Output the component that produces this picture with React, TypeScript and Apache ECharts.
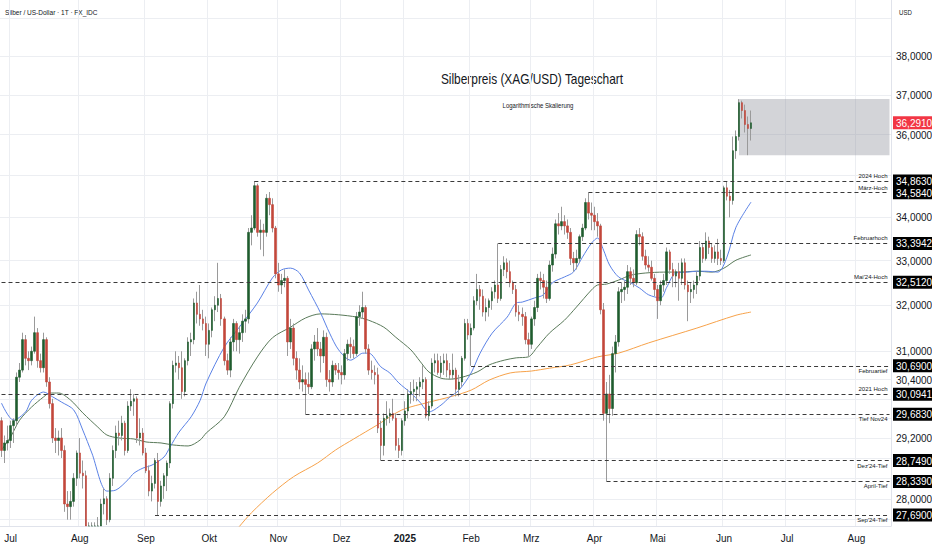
import React, { useEffect, useRef } from "react";
import * as echarts from "echarts";

const FONT = "'Liberation Sans Narrow', 'Liberation Sans', Arial, sans-serif";
const UP = "#1f5c2e";
const DOWN = "#c2473b";
const WICK = "#9a9a9a";
const TEXT = "#131722";

// Daily candles [open, high, low, close]
const jun24 = [
  [29.55, 29.62, 28.82, 28.95], [28.95, 29.25, 28.7, 29.1], [29.1, 29.45, 28.95, 29.15],
];
const jul24 = [
  [29.15, 29.55, 29.0, 29.45], [29.45, 29.6, 29.1, 29.55], [29.55, 30.55, 29.45, 30.45], [30.45, 30.75, 30.35, 30.6],
  [30.6, 31.4, 30.55, 31.25], [31.25, 31.35, 30.7, 30.85], [30.85, 31.0, 30.6, 30.8], [30.8, 31.1, 30.7, 31.0],
  [31.0, 31.75, 30.95, 31.4], [31.4, 31.5, 30.65, 30.8], [30.8, 30.95, 30.55, 30.65], [30.65, 31.4, 30.55, 31.25],
  [31.25, 31.3, 30.25, 30.35], [30.35, 30.45, 29.8, 29.9], [29.9, 30.0, 29.1, 29.2], [29.2, 29.4, 28.9, 29.15],
  [29.15, 29.35, 28.85, 29.2], [29.2, 29.4, 28.8, 28.95], [28.95, 29.05, 27.75, 27.9], [27.9, 28.15, 27.6, 27.85],
  [27.85, 28.15, 27.6, 27.95], [27.95, 28.5, 27.85, 28.4], [28.4, 28.95, 28.25, 28.9],
];
const aug24 = [
  [28.9, 29.2, 28.4, 28.5], [28.5, 28.75, 28.2, 28.45], [28.45, 28.55, 26.55, 27.15], [27.15, 27.55, 26.85, 27.25],
  [27.25, 27.55, 26.6, 26.75], [26.75, 27.55, 26.45, 27.4], [27.4, 27.65, 27.1, 27.45], [27.45, 28.0, 27.3, 27.9],
  [27.9, 28.2, 27.7, 28.0], [28.0, 28.05, 27.5, 27.6], [27.6, 28.5, 27.55, 28.4], [28.4, 29.05, 28.25, 28.95],
  [28.95, 29.45, 28.8, 29.3], [29.3, 29.55, 29.05, 29.25], [29.25, 29.65, 29.15, 29.5], [29.5, 29.55, 28.85, 28.95],
  [28.95, 29.95, 28.9, 29.85], [29.85, 30.2, 29.75, 29.95], [29.95, 30.1, 29.65, 30.0], [30.0, 30.05, 29.1, 29.2],
  [29.2, 29.6, 29.05, 29.3], [29.3, 29.4, 28.85, 28.9],
];
const sep24 = [
  [28.9, 29.0, 28.5, 28.55], [28.55, 28.65, 28.05, 28.15], [28.15, 28.45, 27.95, 28.3], [28.3, 28.8, 28.2, 28.75],
  [28.75, 28.9, 27.69, 27.95], [27.95, 28.35, 27.85, 28.25], [28.25, 28.5, 28.0, 28.45], [28.45, 28.75, 28.15, 28.7],
  [28.7, 29.95, 28.6, 29.9], [29.9, 30.8, 29.8, 30.7], [30.7, 31.0, 30.55, 30.75], [30.75, 30.9, 30.4, 30.65],
  [30.65, 31.0, 30.0, 30.15], [30.15, 30.85, 30.05, 30.8], [30.8, 31.3, 30.7, 31.2], [31.2, 31.4, 30.9, 31.25],
  [31.25, 32.15, 31.15, 32.05], [32.05, 32.3, 31.6, 31.8], [31.8, 32.45, 31.55, 31.7], [31.7, 31.9, 31.45, 31.6],
  [31.6, 31.75, 30.9, 31.15],
];
const oct24 = [
  [31.15, 31.6, 30.85, 31.45], [31.45, 31.95, 31.3, 31.9], [31.9, 32.2, 31.65, 32.0], [32.0, 32.95, 31.85, 32.15],
  [32.15, 32.25, 31.55, 31.7], [31.7, 31.75, 30.7, 30.8], [30.8, 30.95, 30.5, 30.6], [30.6, 31.3, 30.45, 31.2],
  [31.2, 31.7, 31.0, 31.6], [31.6, 31.65, 31.0, 31.25], [31.25, 31.55, 30.95, 31.4], [31.4, 31.8, 31.2, 31.65],
  [31.65, 31.9, 31.4, 31.7], [31.7, 33.75, 31.6, 33.65], [33.65, 34.05, 33.35, 33.75], [33.75, 34.863, 33.7, 34.75],
  [34.75, 34.8, 33.55, 33.65], [33.65, 33.95, 33.25, 33.7], [33.7, 33.85, 33.1, 33.65], [33.65, 34.55, 33.55, 34.45],
  [34.45, 34.6, 34.05, 34.3], [34.3, 34.45, 33.65, 33.75], [33.75, 33.8, 32.6, 32.7],
];
const nov24 = [
  [32.7, 32.95, 32.3, 32.45], [32.45, 32.7, 32.25, 32.55], [32.55, 32.8, 32.4, 32.6], [32.6, 32.65, 30.9, 31.2],
  [31.2, 31.7, 31.05, 31.5], [31.5, 31.6, 30.7, 30.85], [30.85, 31.0, 30.4, 30.6], [30.6, 30.85, 30.2, 30.35],
  [30.35, 30.7, 30.15, 30.4], [30.4, 30.55, 29.683, 30.3], [30.3, 30.55, 30.1, 30.25], [30.25, 31.15, 30.2, 31.05],
  [31.05, 31.35, 30.8, 31.2], [31.2, 31.5, 30.9, 31.05], [31.05, 31.2, 30.55, 30.9], [30.9, 31.45, 30.75, 31.3],
  [31.3, 31.4, 30.25, 30.4], [30.4, 30.6, 30.15, 30.35], [30.35, 30.8, 30.25, 30.7], [30.7, 30.75, 30.5, 30.6],
  [30.6, 30.75, 30.4, 30.55],
];
const dec24 = [
  [30.55, 30.7, 30.3, 30.5], [30.5, 31.05, 30.4, 30.95], [30.95, 31.25, 30.8, 31.15], [31.15, 31.3, 30.85, 31.1],
  [31.1, 31.25, 30.85, 30.95], [30.95, 31.85, 30.9, 31.75], [31.75, 32.0, 31.55, 31.85], [31.85, 32.3, 31.7, 31.95],
  [31.95, 32.0, 30.95, 31.05], [31.05, 31.15, 30.5, 30.6], [30.6, 30.8, 30.4, 30.55], [30.55, 30.7, 30.3, 30.5],
  [30.5, 30.65, 29.3, 29.4], [29.4, 29.55, 28.749, 29.05], [29.05, 29.7, 28.85, 29.6], [29.6, 29.95, 29.45, 29.65],
  [29.65, 29.8, 29.5, 29.7], [29.7, 30.0, 29.55, 29.6], [29.6, 29.7, 28.95, 29.05], [29.05, 29.2, 28.8, 28.95],
  [28.95, 29.6, 28.85, 29.55],
];
const jan25 = [
  [29.55, 29.95, 29.45, 29.75], [29.75, 30.2, 29.6, 30.1], [30.1, 30.35, 29.9, 30.15], [30.15, 30.4, 29.95, 30.2],
  [30.2, 30.35, 29.95, 30.25], [30.25, 30.45, 30.05, 30.35], [30.35, 30.7, 30.2, 30.4], [30.4, 30.45, 29.6, 29.65],
  [29.65, 29.95, 29.55, 29.85], [29.85, 30.85, 29.8, 30.75], [30.75, 30.95, 30.55, 30.8], [30.8, 30.95, 30.5, 30.55],
  [30.55, 30.9, 30.45, 30.75], [30.75, 30.95, 30.5, 30.8], [30.8, 30.95, 30.45, 30.6], [30.6, 30.75, 30.4, 30.5],
  [30.5, 30.95, 30.4, 30.6], [30.6, 30.65, 30.05, 30.2], [30.2, 30.5, 30.05, 30.35], [30.35, 30.9, 30.25, 30.85],
  [30.85, 31.7, 30.8, 31.6], [31.6, 31.7, 31.25, 31.35],
];
const feb25 = [
  [31.35, 31.6, 30.69, 31.5], [31.5, 32.2, 31.45, 32.1], [32.1, 32.7, 32.0, 32.35], [32.35, 32.45, 31.9, 32.2],
  [32.2, 32.35, 31.75, 31.85], [31.85, 32.15, 31.65, 31.95], [31.95, 32.15, 31.75, 32.1], [32.1, 32.4, 31.9, 32.3],
  [32.3, 32.55, 32.15, 32.45], [32.45, 33.3942, 32.05, 32.15], [32.15, 32.9, 32.1, 32.8], [32.8, 33.1, 32.65, 32.95],
  [32.95, 33.05, 32.6, 32.75], [32.75, 33.0, 32.4, 32.5], [32.5, 32.55, 32.25, 32.35], [32.35, 32.45, 31.75, 31.85],
  [31.85, 32.0, 31.65, 31.8], [31.8, 31.95, 31.55, 31.75], [31.75, 31.85, 31.15, 31.25], [31.25, 31.4, 30.9, 31.15],
];
const mar25 = [
  [31.15, 31.75, 31.05, 31.7], [31.7, 32.1, 31.55, 31.95], [31.95, 32.7, 31.85, 32.6], [32.6, 32.75, 32.35, 32.55],
  [32.55, 32.7, 32.15, 32.4], [32.4, 32.55, 32.05, 32.15], [32.15, 33.0, 32.1, 32.9], [32.9, 33.3, 32.75, 33.15],
  [33.15, 33.95, 33.05, 33.85], [33.85, 34.1, 33.6, 33.8], [33.8, 34.25, 33.7, 33.9], [33.9, 34.05, 33.6, 33.8],
  [33.8, 33.95, 33.5, 33.65], [33.65, 33.75, 32.9, 33.05], [33.05, 33.2, 32.75, 32.95], [32.95, 33.25, 32.8, 33.05],
  [33.05, 33.6, 32.95, 33.55], [33.55, 33.85, 33.45, 33.75], [33.75, 34.45, 33.7, 34.35], [34.35, 34.584, 33.95, 34.1],
  [34.1, 34.35, 33.7, 34.05],
];
const apr25 = [
  [34.05, 34.25, 33.7, 33.9], [33.9, 34.1, 33.55, 33.8], [33.8, 33.85, 31.8, 31.9], [31.9, 32.05, 29.55, 29.7],
  [29.7, 30.35, 28.339, 30.1], [30.1, 30.5, 29.5, 29.8], [29.8, 31.1, 29.65, 30.95], [30.95, 31.35, 30.55, 31.2],
  [31.2, 32.4, 31.1, 32.3], [32.3, 32.5, 32.05, 32.35], [32.35, 32.55, 32.1, 32.4], [32.4, 32.9, 32.25, 32.75],
  [32.75, 32.85, 32.45, 32.6], [32.6, 32.8, 32.4, 32.5], [32.5, 33.7, 32.45, 33.6], [33.6, 33.75, 33.35, 33.55],
  [33.55, 33.65, 33.0, 33.1], [33.1, 33.25, 32.8, 32.9], [32.9, 33.1, 32.75, 32.85], [32.85, 33.0, 32.55, 32.6],
  [32.6, 32.7, 32.2, 32.35],
];
const may25 = [
  [32.35, 32.45, 31.7, 32.1], [32.1, 32.55, 32.0, 32.45], [32.45, 32.7, 32.3, 32.55], [32.55, 33.3, 32.45, 33.2],
  [33.2, 33.25, 32.7, 32.8], [32.8, 32.95, 32.4, 32.65], [32.65, 32.8, 32.4, 32.75], [32.75, 32.95, 32.1, 32.6],
  [32.6, 33.05, 32.45, 32.95], [32.95, 33.05, 32.35, 32.45], [32.45, 32.55, 31.65, 32.3], [32.3, 32.5, 32.05, 32.35],
  [32.35, 32.55, 32.15, 32.45], [32.45, 32.75, 32.25, 32.65], [32.65, 33.45, 32.55, 33.3], [33.3, 33.4, 32.95, 33.05],
  [33.05, 33.65, 33.0, 33.45], [33.45, 33.55, 33.15, 33.3], [33.3, 33.4, 32.95, 33.05], [33.05, 33.35, 32.95, 33.2],
  [33.2, 33.5, 32.9, 33.05], [33.05, 33.25, 32.9, 33.0],
];
const jun25 = [
  [33.0, 34.75, 32.95, 34.7], [34.7, 34.85, 34.4, 34.5], [34.5, 34.65, 34.0, 34.4], [34.4, 35.95, 34.3, 35.6],
  [35.6, 36.1, 35.4, 35.95], [35.95, 36.89, 35.85, 36.8], [36.8, 36.85, 36.4, 36.6], [36.6, 36.75, 36.05, 36.25],
  [36.25, 36.45, 35.49, 36.15], [36.15, 36.6, 35.85, 36.291],
];

// Moving averages: [date, value]
const ma20Points = [
  ["2024-06-26", 29.91], ["2024-07-02", 29.56], ["2024-07-08", 29.73], ["2024-07-10", 29.97], ["2024-07-16", 30.14],
  ["2024-07-19", 30.04], ["2024-07-24", 29.93], ["2024-07-30", 29.77], ["2024-08-02", 29.36], ["2024-08-07", 28.9],
  ["2024-08-14", 28.15], ["2024-08-19", 28.17], ["2024-08-23", 28.37], ["2024-08-27", 28.5], ["2024-08-30", 28.6],
  ["2024-09-04", 28.66], ["2024-09-10", 28.82], ["2024-09-12", 29.02], ["2024-09-17", 29.32], ["2024-09-23", 29.63],
  ["2024-09-26", 29.97], ["2024-09-30", 30.33], ["2024-10-08", 31.09], ["2024-10-15", 31.52], ["2024-10-23", 32.05],
  ["2024-10-30", 32.61], ["2024-11-04", 32.79], ["2024-11-07", 32.83], ["2024-11-12", 32.72], ["2024-11-15", 32.34],
  ["2024-11-21", 31.83], ["2024-11-26", 31.39], ["2024-11-29", 31.03], ["2024-12-05", 30.81], ["2024-12-09", 30.88],
  ["2024-12-11", 30.96], ["2024-12-13", 30.96], ["2024-12-19", 30.67], ["2024-12-24", 30.54], ["2024-12-30", 30.33],
  ["2025-01-06", 30.12], ["2025-01-09", 29.93], ["2025-01-14", 29.73], ["2025-01-20", 29.87], ["2025-01-23", 30.04],
  ["2025-01-28", 30.18], ["2025-02-03", 30.54], ["2025-02-06", 30.96], ["2025-02-12", 31.39], ["2025-02-19", 31.74],
  ["2025-02-24", 32.05], ["2025-02-26", 32.07], ["2025-03-04", 32.16], ["2025-03-07", 32.23], ["2025-03-12", 32.5],
  ["2025-03-18", 32.63], ["2025-03-21", 32.74], ["2025-03-26", 33.08], ["2025-03-31", 33.4], ["2025-04-02", 33.52],
  ["2025-04-04", 33.24], ["2025-04-08", 32.9], ["2025-04-11", 32.63], ["2025-04-17", 32.5], ["2025-04-23", 32.38],
  ["2025-04-28", 32.23], ["2025-05-02", 32.16], ["2025-05-06", 32.4], ["2025-05-09", 32.72], ["2025-05-15", 32.74],
  ["2025-05-20", 32.76], ["2025-05-23", 32.76], ["2025-05-29", 32.74], ["2025-06-03", 33.08], ["2025-06-06", 33.77],
  ["2025-06-13", 34.36],
];
const ma50Points = [
  ["2024-06-26", 28.96], ["2024-07-01", 29.22], ["2024-07-04", 29.56], ["2024-07-10", 29.83], ["2024-07-16", 30.04],
  ["2024-07-18", 30.12], ["2024-07-23", 30.12], ["2024-07-29", 29.97], ["2024-08-02", 29.71], ["2024-08-09", 29.42],
  ["2024-08-14", 29.26], ["2024-08-20", 29.2], ["2024-08-27", 29.18], ["2024-09-02", 29.12], ["2024-09-09", 29.1],
  ["2024-09-13", 29.06], ["2024-09-20", 29.04], ["2024-09-26", 29.16], ["2024-09-30", 29.3], ["2024-10-08", 29.63],
  ["2024-10-15", 30.24], ["2024-10-23", 30.88], ["2024-10-30", 31.29], ["2024-11-07", 31.52], ["2024-11-14", 31.72],
  ["2024-11-21", 31.81], ["2024-11-29", 31.79], ["2024-12-09", 31.74], ["2024-12-13", 31.67], ["2024-12-20", 31.52],
  ["2024-12-27", 31.3], ["2025-01-06", 31.03], ["2025-01-09", 30.79], ["2025-01-14", 30.56], ["2025-01-20", 30.43],
  ["2025-01-23", 30.41], ["2025-01-29", 30.45], ["2025-02-05", 30.56], ["2025-02-11", 30.71], ["2025-02-18", 30.81],
  ["2025-02-24", 30.86], ["2025-02-28", 30.88], ["2025-03-05", 31.09], ["2025-03-11", 31.39], ["2025-03-18", 31.67],
  ["2025-03-24", 31.96], ["2025-03-31", 32.34], ["2025-04-02", 32.45], ["2025-04-07", 32.47], ["2025-04-11", 32.56],
  ["2025-04-17", 32.67], ["2025-04-25", 32.72], ["2025-05-05", 32.74], ["2025-05-12", 32.74], ["2025-05-20", 32.76],
  ["2025-05-27", 32.74], ["2025-06-02", 32.83], ["2025-06-06", 33.01], ["2025-06-13", 33.13],
];
const ma200Points = [
  ["2024-10-04", 27.0], ["2024-10-15", 27.47], ["2024-10-21", 27.73], ["2024-10-30", 28.11], ["2024-11-08", 28.43],
  ["2024-11-20", 28.7], ["2024-11-28", 28.96], ["2024-12-06", 29.18], ["2024-12-18", 29.47], ["2024-12-31", 29.77],
  ["2025-01-14", 29.93], ["2025-01-23", 30.04], ["2025-02-03", 30.18], ["2025-02-11", 30.39], ["2025-02-20", 30.54],
  ["2025-03-03", 30.58], ["2025-03-11", 30.64], ["2025-03-20", 30.71], ["2025-04-02", 30.88], ["2025-04-11", 30.96],
  ["2025-04-28", 31.18], ["2025-05-20", 31.5], ["2025-06-06", 31.78], ["2025-06-13", 31.85],
];

// Horizontal levels
const levelNames = ["2024 Hoch", "März-Hoch", "Februarhoch", "Mai'24-Hoch", "Februartief", "2021 Hoch", "Tief Nov24", "Dez'24-Tief", "April-Tief", "Sep'24-Tief"];
const levelValues = [34.863, 34.584, 33.3942, 32.512, 30.69, 30.0941, 29.683, 28.749, 28.339, 27.69];
const levelStarts = ["2024-10-22", "2025-03-28", "2025-02-14", "2024-06-26", "2025-02-03", "2024-06-26", "2024-11-14", "2024-12-19", "2025-04-07", "2024-09-05"];
const levelLabelAbove = [true, true, true, true, false, true, false, false, false, false];

const priceTicks = [38, 37, 36, 34, 33, 32, 31, 30.4, 29.2, 28];
const gridTicks = [39, 38, 37, 36, 35, 34, 33, 32, 31, 30.4, 30, 29.6, 29.2, 28.8, 28.4, 28, 27.6];
const currentPrice = 36.291;
const rangeBox = { from: "2025-06-09", low: 35.49, high: 36.89 };
const Y_MIN = 27.48;
const Y_MAX = 39.5;

const holidays = ["2024-12-25", "2025-01-01", "2025-04-18"];
const monthNames = ["Jan", "Feb", "Mrz", "Apr", "Mai", "Jun", "Jul", "Aug", "Sep", "Okt", "Nov", "Dez"];

function buildDates(): string[] {
  const out: string[] = [];
  const d = new Date(Date.UTC(2024, 5, 26));
  const end = Date.UTC(2025, 7, 18);
  while (d.getTime() <= end) {
    const wd = d.getUTCDay();
    const s = d.toISOString().slice(0, 10);
    if (wd !== 0 && wd !== 6 && holidays.indexOf(s) < 0) out.push(s);
    d.setUTCDate(d.getUTCDate() + 1);
  }
  return out;
}

const fmt = (v: number) => v.toFixed(4).replace(".", ",");

export default function App() {
  const ref = useRef<HTMLDivElement>(null);
  useEffect(() => {
    if (!ref.current) return;
    const chart = echarts.init(ref.current, undefined, { renderer: "svg" });
    const dates = buildDates();
    const lastDate = dates[dates.length - 1];
    const candles = [...jun24, ...jul24, ...aug24, ...sep24, ...oct24, ...nov24, ...dec24, ...jan25, ...feb25, ...mar25, ...apr25, ...may25, ...jun25];
    // visible part only (the pane cuts candles at its lower edge)
    const cut = (v: number) => Math.max(v, Y_MIN);
    const wickData = candles.map(([o, h, l, c]) => [cut(o), cut(c), cut(l), cut(h)]);
    const bodyData = candles.map(([o, h, l, c]) => [cut(o), cut(c), cut(Math.min(o, c)), cut(Math.max(o, c))]);
    const monthStart = dates.map((d, i) => i > 0 && d.slice(0, 7) !== dates[i - 1].slice(0, 7));

    const yLabel = (v: number) => {
      if (Math.abs(v - currentPrice) < 2e-3) return "{r|" + fmt(currentPrice) + "}";
      for (const lv of levelValues) if (Math.abs(v - lv) < 2e-3) return "{b|" + fmt(lv) + "}";
      return "{n|" + fmt(v) + "}";
    };
    const boxStyle = { fontSize: 10, fontFamily: FONT, lineHeight: 12, height: 12, padding: [1, 3, 0, 3], align: "left" };

    const markLineData = levelValues.map((v, i) => [
      {
        name: levelNames[i],
        coord: [levelStarts[i], v],
        label: {
          show: true,
          formatter: levelNames[i],
          position: levelLabelAbove[i] ? "insideEndTop" : "insideEndBottom",
          distance: 2,
          fontSize: 6,
          fontFamily: FONT,
          color: TEXT,
        },
      },
      { coord: [lastDate, v] },
    ]);

    const option: any = {
      animation: false,
      textStyle: { fontFamily: FONT },
      grid: { left: 0, right: 41, top: 0, bottom: 24, containLabel: false, outerBoundsMode: "none" },
      xAxis: {
        type: "category",
        data: dates,
        boundaryGap: true,
        axisLine: { show: true, lineStyle: { color: "#e0e3eb" } },
        axisTick: { show: false },
        axisLabel: {
          interval: (i: number) => monthStart[i],
          formatter: (v: string, i: number) => {
            if (!monthStart[i]) return "";
            const m = Number(v.slice(5, 7));
            if (m === 1) return "{y|" + v.slice(0, 4) + "}";
            return monthNames[m - 1];
          },
          color: TEXT,
          fontSize: 10,
          fontFamily: FONT,
          margin: 7,
          rich: { y: { fontWeight: "bold", fontSize: 10, color: TEXT, fontFamily: FONT } },
        },
        splitLine: { show: true, interval: (i: number) => monthStart[i], lineStyle: { color: "#eceef2", width: 1 } },
      },
      yAxis: {
        type: "log",
        logBase: 10,
        position: "right",
        min: Y_MIN,
        max: Y_MAX,
        axisLine: { show: true, lineStyle: { color: "#e0e3eb" } },
        axisTick: { show: false, customValues: gridTicks },
        splitLine: { show: true, lineStyle: { color: "#eceef2", width: 1 } },
        axisLabel: {
          customValues: [...priceTicks, ...levelValues, currentPrice],
          formatter: yLabel,
          margin: 2,
          rich: {
            n: { ...boxStyle, color: TEXT },
            b: { ...boxStyle, color: "#ffffff", backgroundColor: "#000000" },
            r: { ...boxStyle, color: "#ffffff", backgroundColor: "#f23645" },
          },
        },
      },
      series: [
        {
          type: "line",
          name: "MA200",
          data: ma200Points,
          smooth: 0.3,
          symbol: "none",
          lineStyle: { color: "#f7a24a", width: 1 },
          z: 2,
          silent: true,
        },
        {
          type: "line",
          name: "MA50",
          data: ma50Points,
          smooth: 0.3,
          symbol: "none",
          lineStyle: { color: "#5a7a5a", width: 1 },
          z: 2,
          silent: true,
        },
        {
          type: "line",
          name: "MA20",
          data: ma20Points,
          smooth: 0.3,
          symbol: "none",
          lineStyle: { color: "#5b82e6", width: 1 },
          z: 2,
          silent: true,
        },
        {
          type: "candlestick",
          name: "wick",
          data: wickData,
          barWidth: 1,
          z: 3,
          silent: true,
          itemStyle: { color: WICK, color0: WICK, borderColor: WICK, borderColor0: WICK, borderWidth: 1 },
          markLine: {
            silent: true,
            symbol: ["none", "none"],
            animation: false,
            lineStyle: { type: [4, 3], color: "#3a3a3a", width: 1 },
            data: markLineData,
          },
        },
        {
          type: "candlestick",
          name: "body",
          data: bodyData,
          barWidth: 2,
          z: 4,
          silent: true,
          itemStyle: { color: UP, color0: DOWN, borderColor: UP, borderColor0: DOWN, borderWidth: 0.6 },
          markArea: {
            silent: true,
            itemStyle: { color: "rgba(140,143,152,0.38)" },
            data: [[{ coord: [rangeBox.from, rangeBox.high] }, { coord: [lastDate, rangeBox.low] }]],
          },
        },
      ],
      graphic: [
        { type: "text", x: 5, y: 12, scaleX: 0.87, style: { text: "Silber / US-Dollar · 1T · FX_IDC", fontSize: 7.5, fontFamily: FONT, fill: TEXT, verticalAlign: "middle" } },
        { type: "text", x: 899, y: 12, scaleX: 0.87, style: { text: "USD", fontSize: 7, fontFamily: FONT, fill: TEXT, verticalAlign: "middle" } },
        { type: "text", x: 532, y: 79, scaleX: 0.85, style: { text: "Silberpreis (XAG/USD) Tageschart", fontSize: 14, fontFamily: FONT, fill: TEXT, align: "center", verticalAlign: "middle" } },
        { type: "text", x: 538, y: 105, scaleX: 0.86, style: { text: "Logarithmische Skalierung", fontSize: 7, fontFamily: FONT, fill: TEXT, align: "center", verticalAlign: "middle" } },
      ],
    };
    chart.setOption(option);
    return () => chart.dispose();
  }, []);
  return <div ref={ref} style={{ position: "absolute", left: 0, top: 0, width: 932, height: 550, background: "#ffffff" }} />;
}
